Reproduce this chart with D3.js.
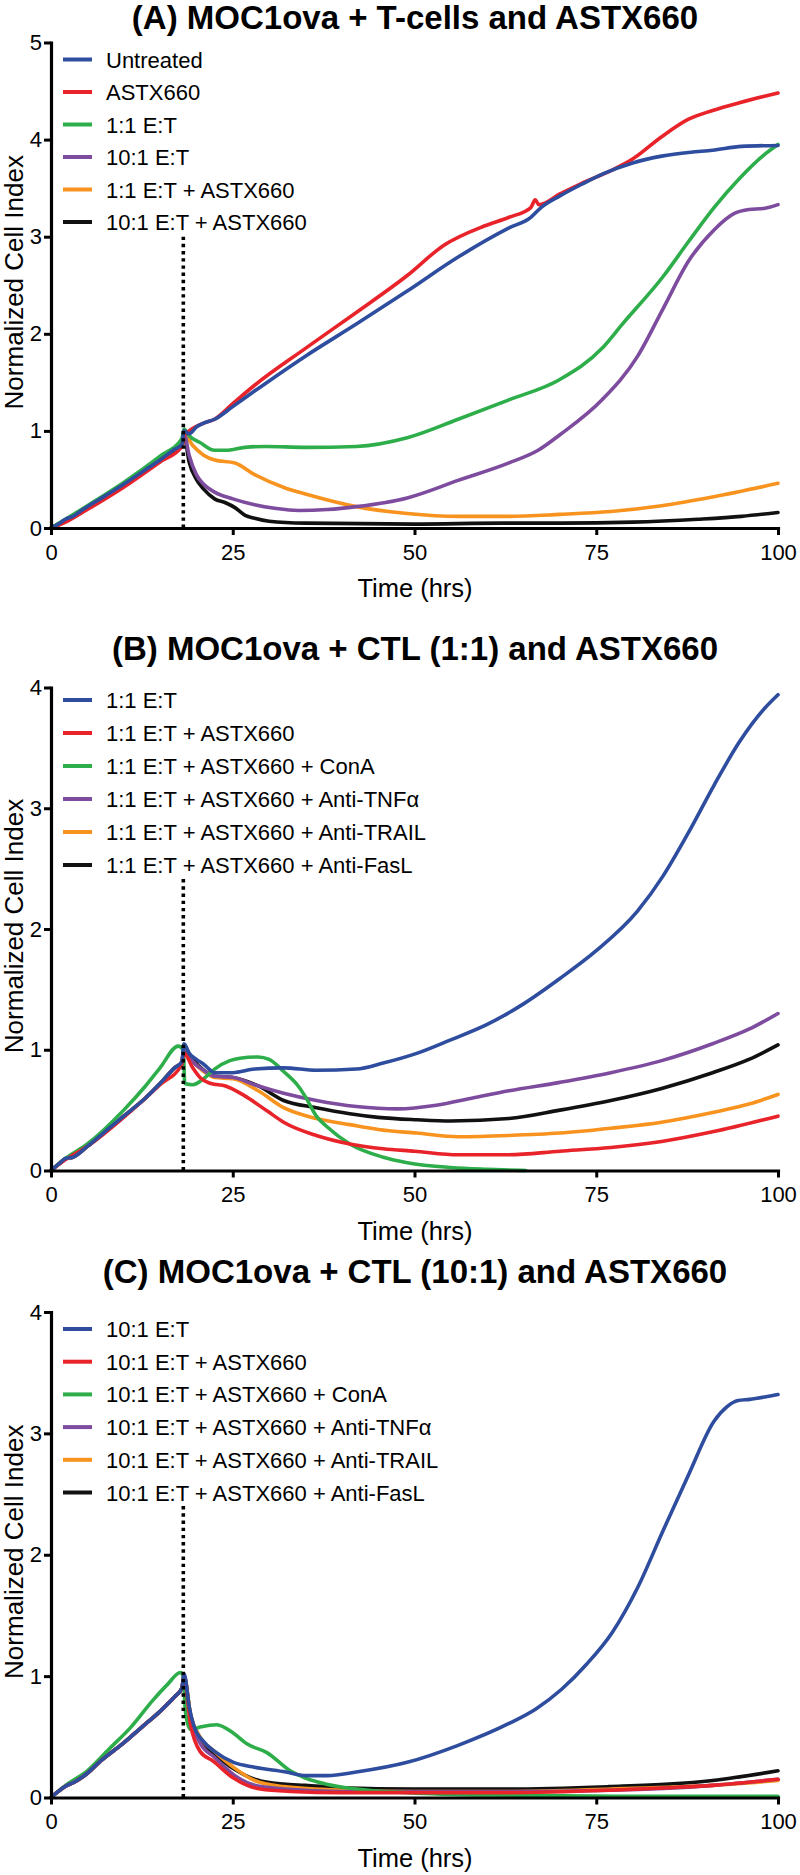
<!DOCTYPE html>
<html><head><meta charset="utf-8">
<script src="https://cdn.jsdelivr.net/npm/d3@7"></script>
<style>body{margin:0;background:#fff}svg{display:block}text{font-family:"Liberation Sans",Arial,Helvetica,sans-serif;fill:#000}</style>
</head><body><svg id="c" width="800" height="1875"></svg>
<script>
// ---------- shared ----------
const xTicks = [0, 25, 50, 75, 100];
const xTitle = "Time (hrs)";
const yTitle = "Normalized Cell Index";
const colors = ["#2E4D9E", "#E8232A", "#2EAE4A", "#7E4C9E", "#F7931E", "#111111"];
const treatTime = 18.2;

// ---------- panel A ----------
const titleA = "(A) MOC1ova + T-cells and ASTX660";
const namesA = ["Untreated", "ASTX660", "1:1 E:T", "10:1 E:T", "1:1 E:T + ASTX660", "10:1 E:T + ASTX660"];
const yTicksA = [0, 1, 2, 3, 4, 5];
const baseA = [[0,0],[1,0.04],[2,0.09],[3,0.12],[4,0.17],[5,0.22],[7,0.31],[10,0.45],[13,0.6],[15,0.7],[17,0.81],[18,0.86]];
const untreatedA = baseA.concat([[18.3,1.0],[19,0.97],[20,1.04],[21,1.08],[22.5,1.12],[25,1.25],[28,1.41],[35,1.77],[42,2.1],[49,2.44],[56,2.79],[63,3.09],[66,3.2],[67.4,3.3],[70,3.42],[73,3.54],[76,3.65],[80,3.76],[84,3.83],[88,3.87],[91,3.89],[95,3.93],[100,3.94]]);
const astxA = [[0,0],[2,0.06],[5,0.19],[10,0.42],[15,0.68],[18,0.84],[18.3,0.95],[19,1.0],[21,1.08],[22.5,1.12],[25,1.28],[28,1.47],[35,1.85],[42,2.22],[49,2.6],[54,2.91],[59.6,3.11],[63,3.2],[66,3.3],[66.6,3.38],[67.1,3.33],[70,3.44],[73,3.55],[77,3.68],[80,3.8],[84,4.03],[87.7,4.21],[91,4.3],[94.7,4.38],[100,4.48]];
const et11A = [[0,0],[2,0.09],[5,0.23],[10,0.47],[15,0.74],[18,0.92],[18.3,1.02],[19,0.95],[20.5,0.88],[22.5,0.8],[24,0.8],[26.7,0.83],[29.5,0.84],[35,0.83],[42,0.84],[49,0.93],[56,1.12],[63,1.32],[70,1.53],[75.8,1.85],[78.6,2.1],[84.2,2.59],[87.7,2.95],[91.2,3.3],[94.7,3.6],[98.2,3.85],[100,3.95]];
const et101A = baseA.concat([[18.3,0.97],[19,0.75],[20,0.55],[21,0.45],[22.5,0.37],[25,0.3],[28,0.24],[31,0.2],[34,0.18],[38,0.19],[42,0.22],[49,0.31],[56,0.49],[63,0.67],[67,0.8],[70,0.96],[75.8,1.32],[80.7,1.77],[84.2,2.26],[87.7,2.75],[91.2,3.07],[94,3.24],[96,3.28],[98,3.29],[100,3.33]]);
const et11AstxA = [[0,0],[2,0.08],[5,0.22],[10,0.46],[15,0.73],[18,0.9],[18.3,0.97],[19.5,0.85],[21,0.75],[22.5,0.7],[25.3,0.67],[28,0.55],[32.3,0.41],[35,0.35],[42,0.22],[49,0.15],[56,0.12],[63,0.12],[70,0.14],[77,0.17],[84,0.23],[91,0.32],[100,0.46]];
const et101AstxA = [[0,0],[2,0.08],[5,0.21],[10,0.45],[15,0.71],[18,0.88],[18.3,0.95],[19,0.68],[20,0.5],[21,0.4],[22.5,0.3],[24,0.26],[25.3,0.21],[26.7,0.13],[28,0.1],[30,0.07],[35,0.05],[50,0.04],[62,0.05],[70,0.05],[80,0.06],[89,0.09],[95,0.12],[100,0.16]];

// ---------- panel B ----------
const titleB = "(B) MOC1ova + CTL (1:1) and ASTX660";
const namesB = ["1:1 E:T", "1:1 E:T + ASTX660", "1:1 E:T + ASTX660 + ConA", "1:1 E:T + ASTX660 + Anti-TNFα", "1:1 E:T + ASTX660 + Anti-TRAIL", "1:1 E:T + ASTX660 + Anti-FasL"];
const yTicksB = [0, 1, 2, 3, 4];
const baseB = [[0,0],[1,0.05],[2,0.1],[3,0.11],[5,0.2],[8,0.35],[10,0.45],[13,0.6],[15,0.72],[17,0.85],[18,0.9]];
const et11B = baseB.concat([[18.3,1.05],[19,0.97],[20,0.92],[21,0.88],[22.5,0.81],[25,0.81],[28,0.84],[32,0.85],[36.5,0.83],[42,0.84],[45.7,0.89],[50.3,0.97],[54.9,1.08],[60,1.21],[65,1.38],[70,1.59],[75,1.82],[80.7,2.15],[84.2,2.44],[87.7,2.8],[91.2,3.19],[94.7,3.55],[98.2,3.83],[100,3.94]]);
const astxB = [[0,0],[2,0.09],[5,0.2],[10,0.44],[15,0.71],[18,0.88],[18.3,0.97],[19.5,0.85],[20.5,0.77],[22,0.72],[24,0.7],[26.6,0.62],[29.8,0.49],[32,0.4],[36.5,0.29],[41.1,0.22],[45.7,0.18],[50,0.16],[56,0.13],[63,0.13],[70,0.16],[77,0.19],[84,0.24],[91,0.32],[100,0.45]];
const conaB = [[0,0],[2,0.1],[5,0.22],[10,0.5],[13,0.7],[15,0.85],[17.5,1.03],[18.2,1.0],[18.4,0.72],[19.5,0.71],[21,0.76],[22.5,0.84],[24.6,0.91],[26,0.93],[28.5,0.94],[30,0.92],[32,0.82],[34,0.7],[35,0.61],[36.5,0.45],[38,0.36],[41.1,0.22],[45.7,0.11],[49,0.065],[55,0.025],[60,0.01],[65.3,0.0]];
const tnfB = baseB.concat([[18.3,1.0],[19.5,0.9],[21,0.83],[22.5,0.78],[25.1,0.77],[28,0.71],[32,0.64],[36.5,0.58],[42,0.53],[47.7,0.51],[53,0.54],[58,0.6],[63,0.66],[70,0.73],[77,0.81],[84,0.91],[91,1.05],[96,1.17],[100,1.3]]);
const trailB = baseB.concat([[18.3,0.98],[19.5,0.9],[21,0.82],[22.5,0.77],[25,0.76],[28.5,0.66],[32,0.52],[36.5,0.43],[41.1,0.38],[45,0.34],[50.3,0.31],[56,0.28],[63,0.29],[70,0.31],[77,0.35],[84,0.4],[91,0.48],[96,0.55],[100,0.63]]);
const faslB = baseB.concat([[18.3,1.02],[19.5,0.92],[21,0.83],[22.5,0.78],[25,0.77],[28.5,0.7],[32,0.58],[36.5,0.52],[41.1,0.47],[45,0.44],[50.3,0.42],[55,0.41],[63,0.43],[70,0.5],[77,0.58],[84,0.68],[91,0.81],[96,0.92],[100,1.04]]);

// ---------- panel C ----------
const titleC = "(C) MOC1ova + CTL (10:1) and ASTX660";
const namesC = ["10:1 E:T", "10:1 E:T + ASTX660", "10:1 E:T + ASTX660 + ConA", "10:1 E:T + ASTX660 + Anti-TNFα", "10:1 E:T + ASTX660 + Anti-TRAIL", "10:1 E:T + ASTX660 + Anti-FasL"];
const yTicksC = [0, 1, 2, 3, 4];
const baseC = [[0,0],[1,0.05],[2.2,0.1],[3,0.12],[5,0.2],[6.8,0.3],[10,0.45],[12.5,0.58],[15,0.71],[17,0.83],[18,0.9]];
const et101C = baseC.concat([[18.3,1.02],[19,0.75],[19.6,0.6],[21,0.46],[22.5,0.38],[25.1,0.29],[28,0.25],[32.3,0.21],[35,0.18],[38,0.18],[42,0.21],[49,0.29],[56,0.43],[63,0.61],[66.7,0.73],[70.2,0.89],[73.7,1.1],[77.2,1.36],[80.7,1.73],[84.2,2.2],[87.7,2.66],[91.2,3.1],[93,3.22],[94.5,3.27],[96.1,3.28],[98.2,3.3],[100,3.32]]);
const astxC = baseC.concat([[18.3,0.98],[19.2,0.6],[20.5,0.38],[22.3,0.3],[25.1,0.16],[27,0.1],[28.8,0.07],[33,0.05],[40,0.04],[50,0.04],[63,0.04],[77,0.06],[85,0.08],[91,0.1],[100,0.15]]);
const conaC = [[0,0],[2,0.1],[5,0.22],[8,0.4],[11,0.58],[14,0.8],[16,0.93],[17.8,1.03],[18.2,1.0],[18.5,0.7],[19.2,0.56],[20.5,0.58],[22.8,0.6],[25.1,0.53],[27,0.44],[29.7,0.37],[32.9,0.22],[35,0.16],[37.9,0.11],[42,0.07],[49,0.04],[60,0.02],[80,0.01],[100,0.01]];
const tnfC = baseC.concat([[18.3,1.0],[19.2,0.65],[20.5,0.45],[22.5,0.33],[25.3,0.18],[28,0.1],[32,0.07],[40,0.05],[50,0.05],[63,0.05],[77,0.06],[91,0.1],[100,0.15]]);
const trailC = baseC.concat([[18.3,1.0],[19.2,0.68],[20.5,0.5],[22.5,0.38],[25.3,0.24],[28,0.14],[32,0.09],[40,0.06],[50,0.05],[63,0.05],[77,0.07],[91,0.1],[100,0.14]]);
const faslC = baseC.concat([[18.3,1.0],[19.2,0.68],[20.5,0.48],[22.5,0.36],[25.3,0.23],[28,0.15],[32,0.11],[35,0.1],[40,0.08],[50,0.07],[63,0.07],[77,0.09],[85,0.11],[91,0.14],[100,0.22]]);

// ---------- layout ----------
const panels = [
  {title: titleA, names: namesA, series: [untreatedA, astxA, et11A, et101A, et11AstxA, et101AstxA], yTicks: yTicksA, ymax: 5, dotTop: 3.0,
   top: 42.5, bottom: 528, titleY: 29, legendY: 59.5, legendStep: 32.5},
  {title: titleB, names: namesB, series: [et11B, astxB, conaB, tnfB, trailB, faslB], yTicks: yTicksB, ymax: 4, dotTop: 2.43,
   top: 687.5, bottom: 1170.5, titleY: 660, legendY: 700, legendStep: 33},
  {title: titleC, names: namesC, series: [et101C, astxC, conaC, tnfC, trailC, faslC], yTicks: yTicksC, ymax: 4, dotTop: 2.43,
   top: 1312, bottom: 1797.5, titleY: 1283, legendY: 1329, legendStep: 32.7}
];

const svg = d3.select("#c");
const x = d3.scaleLinear().domain([0, 100]).range([51, 778]);

panels.forEach(p => {
  const y = d3.scaleLinear().domain([0, p.ymax]).range([p.bottom, p.top]);
  const g = svg.append("g");

  g.append("text").attr("x", 415).attr("y", p.titleY).attr("text-anchor", "middle")
    .attr("font-size", 33).attr("font-weight", "bold").text(p.title);

  const line = d3.line().x(d => x(d[0])).y(d => y(d[1])).curve(d3.curveMonotoneX);
  for (let i = p.series.length - 1; i >= 0; i--) {
    g.append("path").datum(p.series[i]).attr("d", line)
      .attr("fill", "none").attr("stroke", colors[i]).attr("stroke-width", 3.6)
      .attr("stroke-linejoin", "round").attr("stroke-linecap", "round");
  }

  g.append("line").attr("x1", x(treatTime)).attr("x2", x(treatTime))
    .attr("y1", y(0)).attr("y2", y(p.dotTop))
    .attr("stroke", "#000").attr("stroke-width", 3.6).attr("stroke-dasharray", "3.4,3.8");

  const xa = g.append("g").attr("transform", `translate(0,${p.bottom})`)
    .call(d3.axisBottom(x).tickValues(xTicks).tickSize(7).tickSizeOuter(0).tickPadding(9));
  const ya = g.append("g").attr("transform", `translate(${x(0)},0)`)
    .call(d3.axisLeft(y).tickValues(p.yTicks).tickSize(7).tickSizeOuter(0).tickPadding(2).tickFormat(d3.format("d")));
  [xa, ya].forEach(a => {
    a.select(".domain").attr("stroke", "#000").attr("stroke-width", 3.2).attr("stroke-linecap", "square");
    a.selectAll(".tick line").attr("stroke", "#000").attr("stroke-width", 3);
    a.selectAll(".tick text").attr("font-size", 22).attr("fill", "#000")
      .style("font-family", '"Liberation Sans",Arial,sans-serif');
  });

  g.append("text").attr("x", 415).attr("y", p.bottom + 69).attr("text-anchor", "middle")
    .attr("font-size", 25.5).text(xTitle);
  g.append("text").attr("transform", `translate(23,${(p.top + p.bottom) / 2 - 3}) rotate(-90)`)
    .attr("text-anchor", "middle").attr("font-size", 26).text(yTitle);

  p.names.forEach((n, i) => {
    const ly = p.legendY + i * p.legendStep;
    g.append("line").attr("x1", 63).attr("x2", 92).attr("y1", ly).attr("y2", ly)
      .attr("stroke", colors[i]).attr("stroke-width", 4);
    g.append("text").attr("x", 106).attr("y", ly + 8).attr("font-size", 22).text(n);
  });
});
</script></body></html>
